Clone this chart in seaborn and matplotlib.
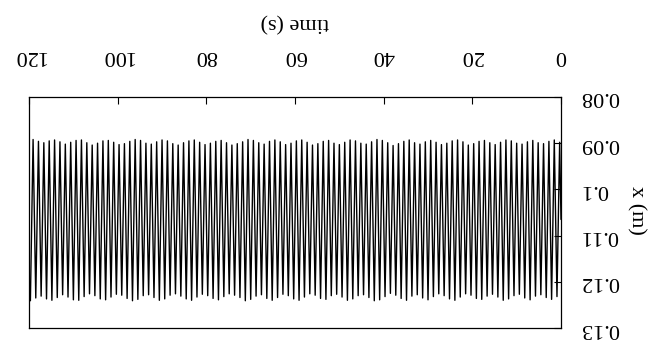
import numpy as np
import pandas as pd
import matplotlib
matplotlib.use("Agg")
import matplotlib.pyplot as plt
import seaborn as sns

# ---- data (time order, t = 0 first) ----
x_start = 0.1065
# minima of x (m) at each cycle
x_min = [
    0.0898, 0.0893, 0.0896, 0.0901, 0.0899, 0.0894, 0.0897, 0.0902, 0.0900, 0.0895,
    0.0893, 0.0898, 0.0903, 0.0899, 0.0894, 0.0896, 0.0901, 0.0904, 0.0897, 0.0893,
    0.0895, 0.0900, 0.0903, 0.0898, 0.0894, 0.0897, 0.0902, 0.0899, 0.0893, 0.0896,
    0.0901, 0.0905, 0.0899, 0.0894, 0.0892, 0.0897, 0.0902, 0.0900, 0.0895, 0.0893,
    0.0898, 0.0903, 0.0900, 0.0894, 0.0896, 0.0901, 0.0904, 0.0898, 0.0893, 0.0895,
    0.0900, 0.0903, 0.0897, 0.0893, 0.0896, 0.0902, 0.0899, 0.0894, 0.0892, 0.0897,
    0.0901, 0.0904, 0.0899, 0.0894, 0.0896, 0.0900, 0.0903, 0.0898, 0.0893, 0.0895,
    0.0899, 0.0904, 0.0901, 0.0895, 0.0893, 0.0897, 0.0902, 0.0900, 0.0894, 0.0892,
    0.0896, 0.0901, 0.0903, 0.0898, 0.0894, 0.0895, 0.0900, 0.0904, 0.0899, 0.0893,
    0.0894, 0.0898, 0.0902, 0.0897, 0.0893, 0.0895, 0.0899, 0.0896, 0.0892,
]
# maxima of x (m) at each cycle
x_max = [
    0.1232, 0.1238, 0.1234, 0.1228, 0.1231, 0.1239, 0.1235, 0.1227, 0.1230, 0.1237,
    0.1240, 0.1233, 0.1227, 0.1231, 0.1238, 0.1236, 0.1229, 0.1226, 0.1233, 0.1240,
    0.1237, 0.1230, 0.1226, 0.1232, 0.1239, 0.1235, 0.1228, 0.1231, 0.1240, 0.1236,
    0.1229, 0.1225, 0.1232, 0.1239, 0.1241, 0.1234, 0.1228, 0.1230, 0.1237, 0.1240,
    0.1233, 0.1227, 0.1230, 0.1238, 0.1236, 0.1229, 0.1226, 0.1233, 0.1240, 0.1237,
    0.1230, 0.1227, 0.1234, 0.1240, 0.1236, 0.1228, 0.1231, 0.1238, 0.1241, 0.1234,
    0.1229, 0.1226, 0.1232, 0.1239, 0.1236, 0.1230, 0.1227, 0.1233, 0.1240, 0.1237,
    0.1231, 0.1226, 0.1229, 0.1237, 0.1240, 0.1234, 0.1228, 0.1230, 0.1238, 0.1241,
    0.1236, 0.1229, 0.1227, 0.1233, 0.1239, 0.1237, 0.1230, 0.1226, 0.1232, 0.1240,
    0.1239, 0.1233, 0.1228, 0.1234, 0.1240, 0.1237, 0.1231, 0.1235, 0.1241,
]
half_period = 0.606   # s, read from the count of cycles (~99 in 120 s)
x_ticks = [0, 20, 40, 60, 80, 100, 120]
y_ticks = [0.08, 0.09, 0.1, 0.11, 0.12, 0.13]
y_tick_labels = ["0.08", "0.09", "0.1", "0.11", "0.12", "0.13"]

# ---- build the series ----
vals = [x_start]
for lo, hi in zip(x_min, x_max):
    vals += [lo, hi]
times = [0.0] + [half_period / 2 + half_period * i for i in range(len(vals) - 1)]
df = pd.DataFrame({"time (s)": times, "x (m)": vals})

sns.set_theme(style="ticks")
plt.rcParams["font.family"] = ["Liberation Serif", "DejaVu Serif"]

fig = plt.figure(figsize=(6.53, 3.4), dpi=100)
fig.patch.set_facecolor("white")
L, R, T, B = 29, 561, 97, 328
ax = fig.add_axes([L / 653, (340 - B) / 340, (R - L) / 653, (B - T) / 340])
ax.set_facecolor("white")

sns.lineplot(data=df, x="time (s)", y="x (m)", color="black", linewidth=1.0,
             estimator=None, sort=False, ax=ax)

# the reference is printed upside down
ax.set_xlim(120, 0)
ax.set_ylim(0.13, 0.08)
ax.set_xticks(x_ticks)
ax.set_xticklabels([str(v) for v in x_ticks])
ax.set_yticks(y_ticks)
ax.set_yticklabels(y_tick_labels)

ax.xaxis.tick_top()
ax.yaxis.tick_right()
ax.tick_params(axis="both", direction="in", length=5, width=0.8, color="black",
               labelsize=16, labelcolor="black", labelrotation=180)
ax.tick_params(axis="x", pad=23)
ax.tick_params(axis="y", pad=14)
for lab in ax.get_yticklabels():
    lab.set_ha("left")
    lab.set_va("center")

for s in ax.spines.values():
    s.set_visible(True)
    s.set_color("black")
    s.set_linewidth(0.9)

ax.set_xlabel("time (s)", fontsize=16, rotation=180, color="black")
ax.xaxis.set_label_position("top")
ax.xaxis.label.set_ha("center")
ax.xaxis.label.set_va("center")
ax.xaxis.set_label_coords(0.5, (B - 22) / (B - T))

ax.set_ylabel("x (m)", fontsize=16, rotation=270, color="black")
ax.yaxis.set_label_position("right")
ax.yaxis.label.set_ha("center")
ax.yaxis.label.set_va("center")
ax.yaxis.set_label_coords((636 - L) / (R - L), (B - 210) / (B - T))

fig.savefig("out.png", dpi=100, facecolor="white")
